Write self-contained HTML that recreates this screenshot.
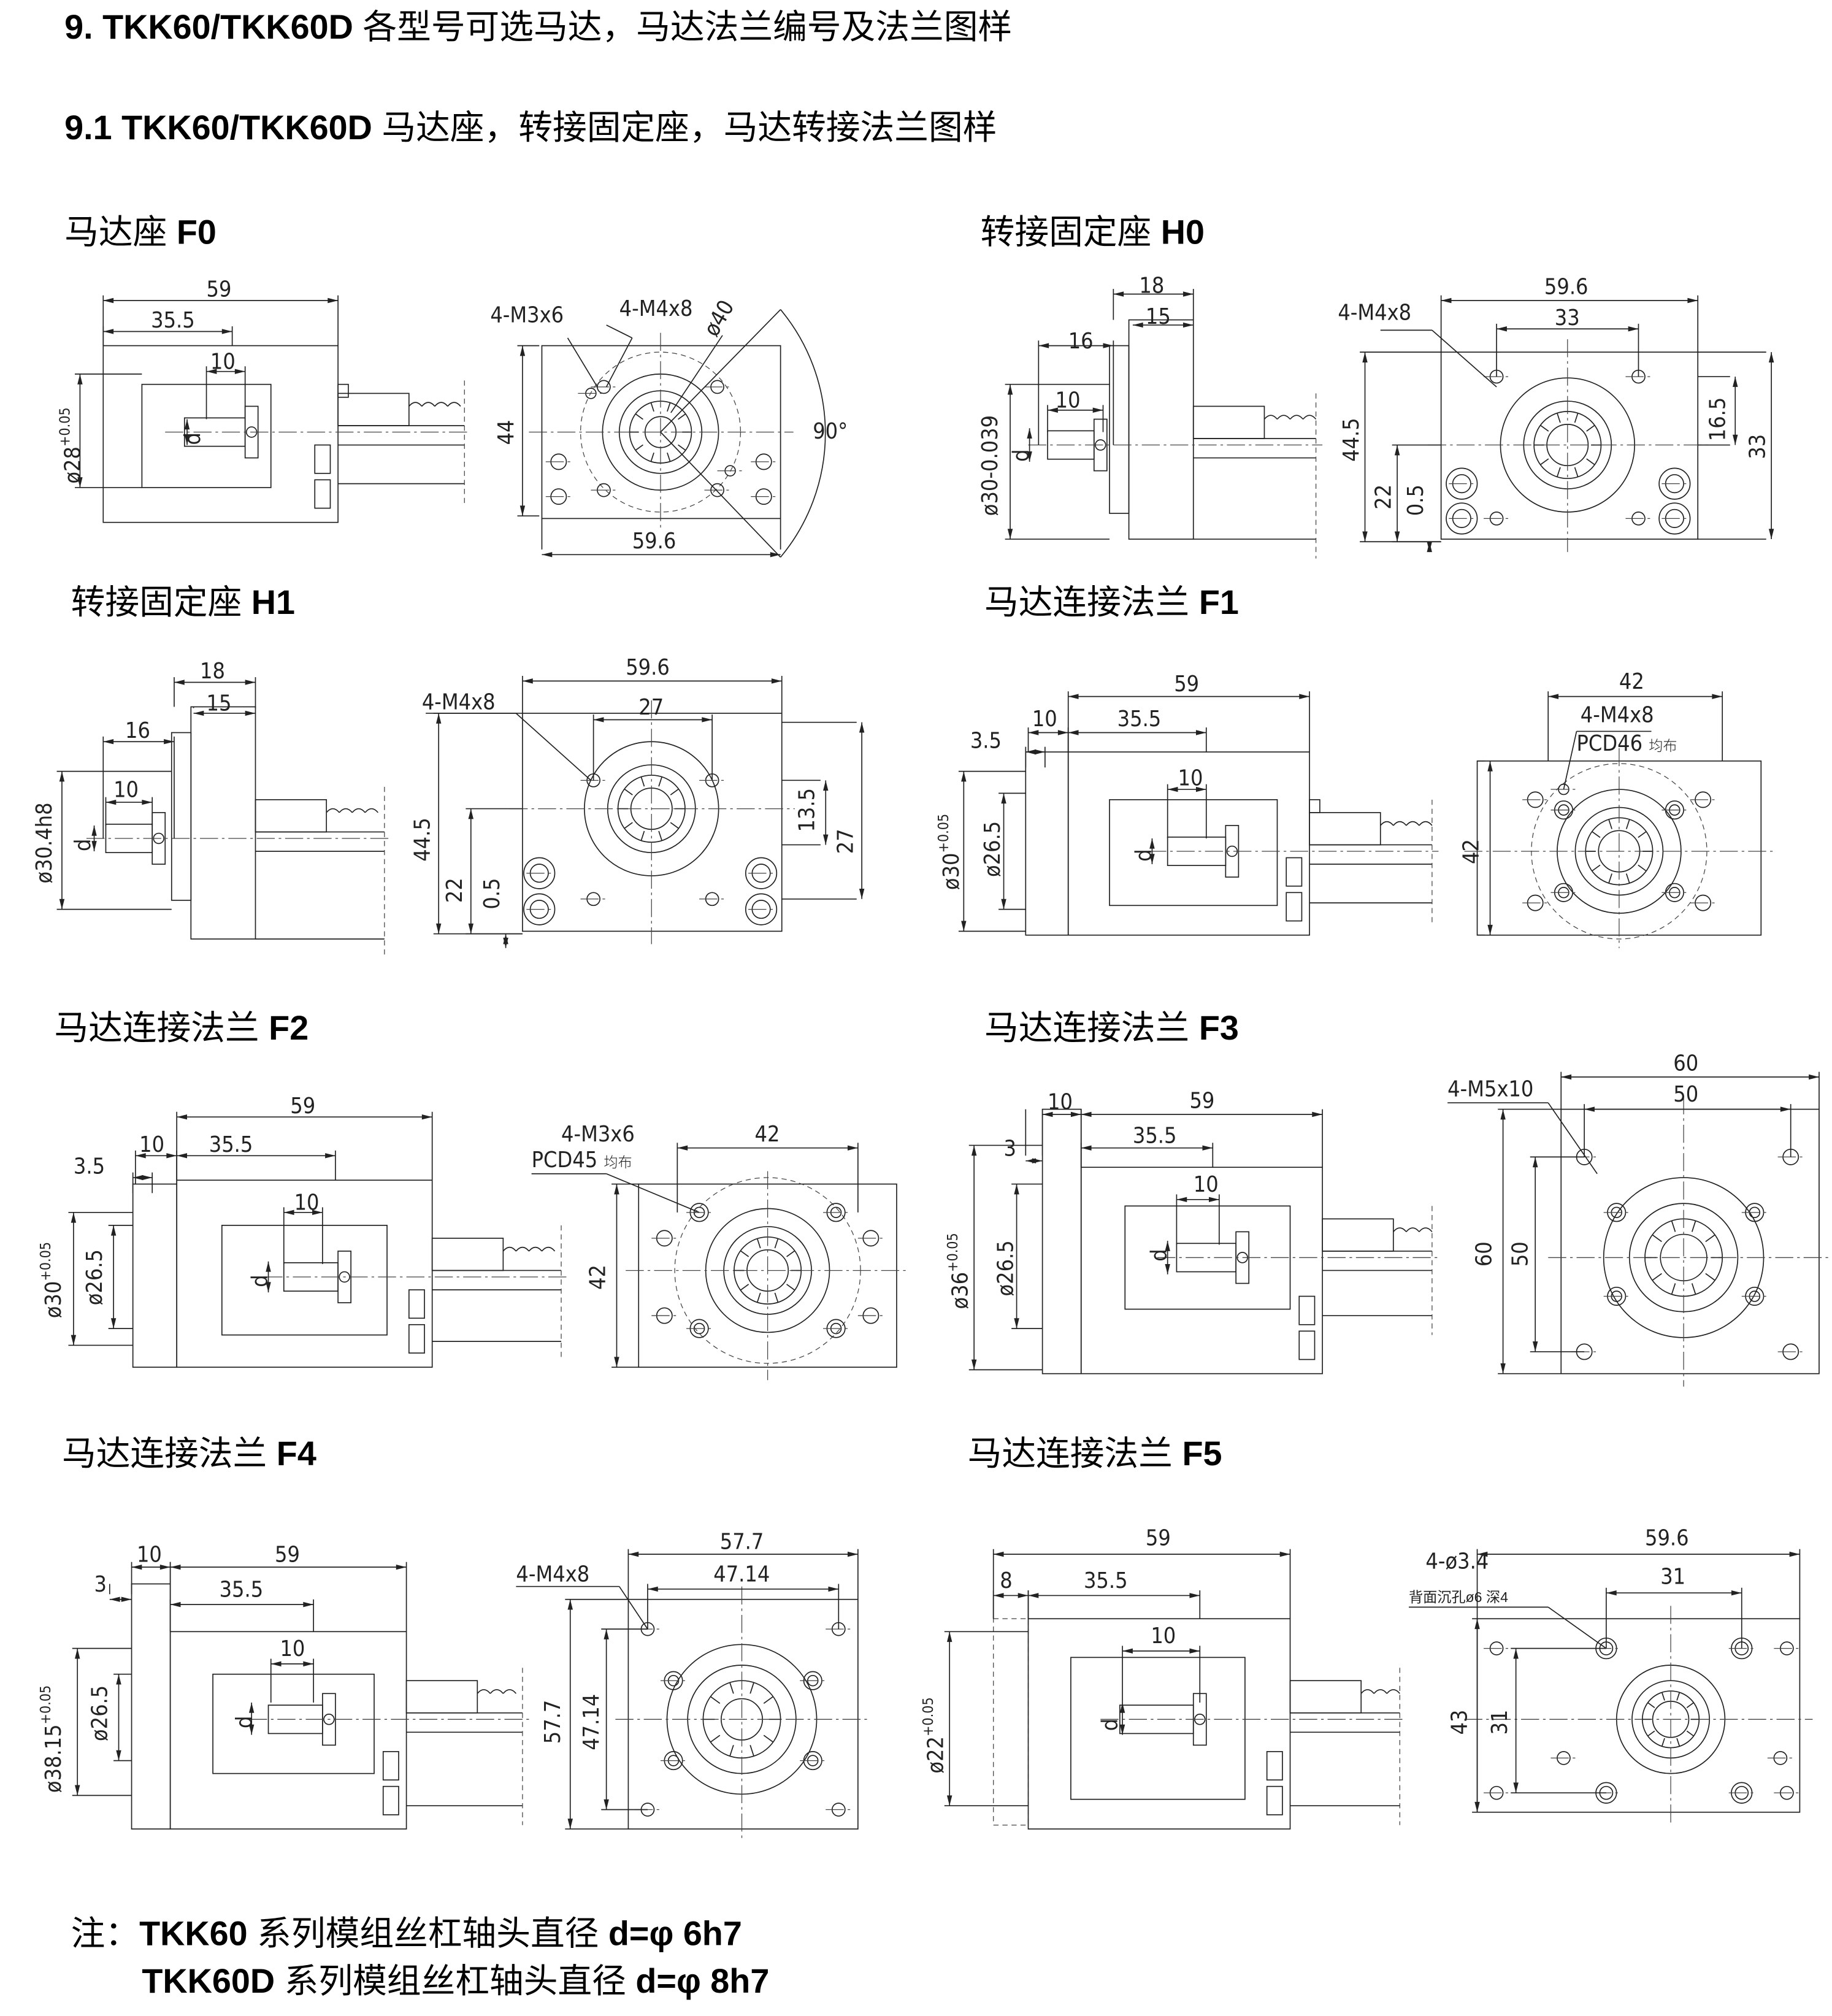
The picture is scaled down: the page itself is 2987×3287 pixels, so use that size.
<!DOCTYPE html>
<html><head><meta charset="utf-8"><style>
html,body{margin:0;padding:0;background:#fff;}
svg{display:block}
.t{font-family:"Liberation Sans","Noto Sans CJK SC",sans-serif;font-size:26.5px;fill:#000}
.t tspan.b{font-weight:bold}
.d{font-family:"DejaVu Sans Condensed","Liberation Sans Narrow","Liberation Sans",sans-serif;font-size:17px;fill:#222;font-weight:300}
.s{font-family:"Liberation Sans","Noto Sans CJK SC",sans-serif;font-size:11px;fill:#222}
.l{stroke:#222;stroke-width:0.8;fill:none}
.c{stroke:#444;stroke-width:0.6;fill:none;stroke-dasharray:14 3 2 3}
.h{stroke:#444;stroke-width:0.6;fill:none;stroke-dasharray:4 3}
.a{fill:#222;stroke:none}
</style></head><body>
<svg id="svg" width="2987" height="3287" viewBox="0 0 1420 1563" preserveAspectRatio="none" xmlns="http://www.w3.org/2000/svg">
<rect width="1420" height="1563" fill="#fff"/>
<g id="g"></g>
<text class="t" x="50" y="30"><tspan class="b">9. TKK60/TKK60D</tspan> 各型号可选马达，马达法兰编号及法兰图样</text>
<text class="t" x="50" y="108"><tspan class="b">9.1 TKK60/TKK60D</tspan> 马达座，转接固定座，马达转接法兰图样</text>
<text class="t" x="50" y="189">马达座 <tspan class="b">F0</tspan></text>
<text class="t" x="760" y="189">转接固定座 <tspan class="b">H0</tspan></text>
<text class="t" x="55" y="476">转接固定座 <tspan class="b">H1</tspan></text>
<text class="t" x="763" y="476">马达连接法兰 <tspan class="b">F1</tspan></text>
<text class="t" x="42" y="806">马达连接法兰 <tspan class="b">F2</tspan></text>
<text class="t" x="763" y="806">马达连接法兰 <tspan class="b">F3</tspan></text>
<text class="t" x="48" y="1136">马达连接法兰 <tspan class="b">F4</tspan></text>
<text class="t" x="750" y="1136">马达连接法兰 <tspan class="b">F5</tspan></text>
<text class="t" x="55" y="1508">注：<tspan class="b">TKK60</tspan> 系列模组丝杠轴头直径 <tspan class="b">d=φ 6h7</tspan></text>
<text class="t" x="110" y="1545"><tspan class="b">TKK60D</tspan> 系列模组丝杠轴头直径 <tspan class="b">d=φ 8h7</tspan></text>

<!-- F0 -->
<text class="d" x="160" y="230">59</text><text class="d" x="117" y="254">35.5</text><text class="d" x="163" y="286">10</text>
<text class="d" transform="translate(62,375) rotate(-90)">ø28<tspan font-size="11" dy="-8">+0.05</tspan></text>
<text class="d" transform="translate(155,345) rotate(-90)">d</text>
<text class="d" x="380" y="250">4-M3x6</text><text class="d" x="480" y="245">4-M4x8</text>
<text class="d" transform="translate(555,262) rotate(-60)">ø40</text>
<text class="d" transform="translate(398,345) rotate(-90)">44</text>
<text class="d" x="490" y="425">59.6</text><text class="d" x="630" y="340">90°</text>
<!-- H0 -->
<text class="d" x="883" y="227">18</text><text class="d" x="888" y="251">15</text><text class="d" x="828" y="270">16</text><text class="d" x="818" y="316">10</text>
<text class="d" transform="translate(773,400) rotate(-90)">ø30-0.039</text>
<text class="d" transform="translate(797,358) rotate(-90)">d</text>
<text class="d" x="1197" y="228">59.6</text><text class="d" x="1205" y="252">33</text><text class="d" x="1037" y="248">4-M4x8</text>
<text class="d" transform="translate(1053,358) rotate(-90)">44.5</text>
<text class="d" transform="translate(1078,395) rotate(-90)">22</text>
<text class="d" transform="translate(1103,400) rotate(-90)">0.5</text>
<text class="d" transform="translate(1337,342) rotate(-90)">16.5</text>
<text class="d" transform="translate(1368,356) rotate(-90)">33</text>
<!-- H1 -->
<text class="d" x="155" y="526">18</text><text class="d" x="160" y="551">15</text><text class="d" x="97" y="572">16</text><text class="d" x="88" y="618">10</text>
<text class="d" transform="translate(40,685) rotate(-90)">ø30.4h8</text>
<text class="d" transform="translate(70,660) rotate(-90)">d</text>
<text class="d" x="485" y="523">59.6</text><text class="d" x="495" y="554">27</text><text class="d" x="327" y="550">4-M4x8</text>
<text class="d" transform="translate(333,668) rotate(-90)">44.5</text>
<text class="d" transform="translate(358,700) rotate(-90)">22</text>
<text class="d" transform="translate(387,705) rotate(-90)">0.5</text>
<text class="d" transform="translate(631,645) rotate(-90)">13.5</text>
<text class="d" transform="translate(661,662) rotate(-90)">27</text>
<!-- F1 -->
<text class="d" x="910" y="536">59</text><text class="d" x="800" y="563">10</text><text class="d" x="866" y="563">35.5</text><text class="d" x="752" y="580">3.5</text><text class="d" x="913" y="609">10</text>
<text class="d" transform="translate(743,690) rotate(-90)">ø30<tspan font-size="11" dy="-8">+0.05</tspan></text>
<text class="d" transform="translate(775,680) rotate(-90)">ø26.5</text>
<text class="d" transform="translate(892,668) rotate(-90)">d</text>
<text class="d" x="1255" y="534">42</text><text class="d" x="1225" y="560">4-M4x8</text><text class="d" x="1222" y="582">PCD46 <tspan class="s">均布</tspan></text>
<text class="d" transform="translate(1146,670) rotate(-90)">42</text>
<!-- F2 -->
<text class="d" x="225" y="863">59</text><text class="d" x="108" y="893">10</text><text class="d" x="162" y="893">35.5</text><text class="d" x="57" y="910">3.5</text><text class="d" x="228" y="938">10</text>
<text class="d" transform="translate(47,1022) rotate(-90)">ø30<tspan font-size="11" dy="-8">+0.05</tspan></text>
<text class="d" transform="translate(79,1012) rotate(-90)">ø26.5</text>
<text class="d" transform="translate(207,998) rotate(-90)">d</text>
<text class="d" x="435" y="885">4-M3x6</text><text class="d" x="412" y="905">PCD45 <tspan class="s">均布</tspan></text><text class="d" x="585" y="885">42</text>
<text class="d" transform="translate(469,1000) rotate(-90)">42</text>
<!-- F3 -->
<text class="d" x="812" y="860">10</text><text class="d" x="922" y="859">59</text><text class="d" x="778" y="896">3</text><text class="d" x="878" y="886">35.5</text><text class="d" x="925" y="924">10</text>
<text class="d" transform="translate(750,1015) rotate(-90)">ø36<tspan font-size="11" dy="-8">+0.05</tspan></text>
<text class="d" transform="translate(785,1005) rotate(-90)">ø26.5</text>
<text class="d" transform="translate(904,978) rotate(-90)">d</text>
<text class="d" x="1297" y="830">60</text><text class="d" x="1297" y="854">50</text><text class="d" x="1122" y="850">4-M5x10</text>
<text class="d" transform="translate(1156,982) rotate(-90)">60</text>
<text class="d" transform="translate(1184,982) rotate(-90)">50</text>
<!-- F4 -->
<text class="d" x="106" y="1211">10</text><text class="d" x="213" y="1211">59</text><text class="d" x="73" y="1234">3</text><text class="d" x="170" y="1238">35.5</text><text class="d" x="217" y="1284">10</text>
<text class="d" transform="translate(47,1390) rotate(-90)">ø38.15<tspan font-size="11" dy="-8">+0.05</tspan></text>
<text class="d" transform="translate(83,1350) rotate(-90)">ø26.5</text>
<text class="d" transform="translate(195,1340) rotate(-90)">d</text>
<text class="d" x="558" y="1201">57.7</text><text class="d" x="553" y="1226">47.14</text><text class="d" x="400" y="1226">4-M4x8</text>
<text class="d" transform="translate(434,1352) rotate(-90)">57.7</text>
<text class="d" transform="translate(464,1357) rotate(-90)">47.14</text>
<!-- F5 -->
<text class="d" x="888" y="1198">59</text><text class="d" x="775" y="1231">8</text><text class="d" x="840" y="1231">35.5</text><text class="d" x="892" y="1274">10</text>
<text class="d" transform="translate(731,1375) rotate(-90)">ø22<tspan font-size="11" dy="-8">+0.05</tspan></text>
<text class="d" transform="translate(866,1342) rotate(-90)">d</text>
<text class="d" x="1275" y="1198">59.6</text><text class="d" x="1287" y="1228">31</text><text class="d" x="1105" y="1216">4-ø3.4</text>
<text class="s" x="1092" y="1242">背面沉孔ø6 深4</text>
<text class="d" transform="translate(1137,1345) rotate(-90)">43</text>
<text class="d" transform="translate(1168,1345) rotate(-90)">31</text>
</svg>
<script>
var G=document.getElementById('g'),NS='http://www.w3.org/2000/svg';
function E(t,a){var e=document.createElementNS(NS,t);for(var k in a)e.setAttribute(k,a[k]);G.appendChild(e);return e;}
function L(x1,y1,x2,y2,c){E('line',{x1:x1,y1:y1,x2:x2,y2:y2,'class':c||'l'});}
function R(x,y,w,h,c){E('rect',{x:x,y:y,width:w,height:h,'class':c||'l'});}
function C(x,y,r,c){E('circle',{cx:x,cy:y,r:r,'class':c||'l'});}
function P(pts){E('polygon',{points:pts,'class':'a'});}
function hd(x1,x2,y,y0){L(x1,y,x2,y);P(x1+','+y+' '+(x1+8)+','+(y-2)+' '+(x1+8)+','+(y+2));P(x2+','+y+' '+(x2-8)+','+(y-2)+' '+(x2-8)+','+(y+2));
 if(y0!=null){L(x1,y-4,x1,y0);L(x2,y-4,x2,y0);}}
function vd(y1,y2,x,x0){L(x,y1,x,y2);P(x+','+y1+' '+(x-2)+','+(y1+8)+' '+(x+2)+','+(y1+8));P(x+','+y2+' '+(x-2)+','+(y2-8)+' '+(x+2)+','+(y2-8));
 if(x0!=null){L(x-4,y1,x0,y1);L(x-4,y2,x0,y2);}}
function side(o){
 if(o.fx1!=null)R(o.fx1,o.fy1,o.fx2-o.fx1,o.fy2-o.fy1);
 if(o.bx1!=null){R(o.bx1,o.by1,o.bx2-o.bx1,o.by2-o.by1);
   if(o.win){R(o.win[0],o.win[1],o.win[2]-o.win[0],o.win[3]-o.win[1]);}
   R(o.bx2-18,o.by2-60,12,22);R(o.bx2-18,o.by2-33,12,22);}
 var cy=o.cy;R(o.sx1,cy-11,o.sx2-o.sx1,22);R(o.sx2,cy-20,10,40);C(o.sx2+5,cy,4);
 var rx=o.rx1,re=o.rx2;R(rx,cy-30,55,25);L(rx,cy-5,re,cy-5);L(rx,cy+10,re,cy+10);L(rx,o.rb,re,o.rb);
 for(var x=rx+55;x<re-6;x+=10){E('path',{d:'M'+x+' '+(cy-20)+' q5 -6 10 0','class':'l'});}
 L(re,cy-40,re,o.rb+15,'h');L(o.sx1-15,cy,re+5,cy,'c');}
function front(o){
 R(o.x1,o.y1,o.x2-o.x1,o.y2-o.y1);
 (o.rs||[]).forEach(function(r){C(o.cx,o.cy,r);});
 if(o.dr)C(o.cx,o.cy,o.dr,'h');
 (o.holes||[]).forEach(function(h){C(h[0],h[1],h[2]);if(h[3])C(h[0],h[1],h[3]);L(h[0]-10,h[1],h[0]+10,h[1],'c');});
 L(o.x1-10,o.cy,o.x2+10,o.cy,'c');L(o.cx,o.y1-10,o.cx,o.y2+10,'c');
 for(var i=0;i<10;i++){var a=i*Math.PI/5,r=(o.rs&&o.rs.length>2)?o.rs[2]:20;L(o.cx+Math.cos(a)*r*0.7,o.cy+Math.sin(a)*r*0.7,o.cx+Math.cos(a)*r,o.cy+Math.sin(a)*r);}}

// F0
side({bx1:80,bx2:262,by1:268,by2:405,win:[110,298,210,378],cy:335,sx1:143,sx2:190,rx1:262,rx2:360,rb:375});
R(262,298,8,10);
hd(80,262,233,268);hd(80,180,257,268);hd(160,190,288,325);vd(290,378,62,110);vd(325,345,145,null);
front({x1:420,y1:268,x2:605,y2:402,cx:512,cy:335,rs:[45,32,24,12],dr:62,holes:[[468,300,5],[556,300,5],[468,380,5],[556,380,5],[433,358,6],[433,385,6],[592,358,6],[592,385,6],[458,305,4],[566,365,4]]});
vd(268,400,405,418);hd(420,605,430,402);
E('path',{d:'M605 240 A150 150 0 0 1 605 432','class':'l'});L(512,335,605,240);L(512,335,605,432);
L(440,262,463,300);L(470,252,490,262);L(490,262,470,300);L(560,260,520,320);
// H0
R(875,248,50,170);R(860,268,15,130);side({cy:345,sx1:812,sx2:848,rx1:925,rx2:1020,rb:418});
hd(863,925,228,248);hd(878,925,252,248);hd(805,863,268,345);hd(812,855,318,335);vd(298,418,783,860);vd(332,358,798,null);
front({x1:1117,y1:273,x2:1316,y2:418,cx:1215,cy:345,rs:[52,34,26,16],holes:[[1160,292,5],[1270,292,5],[1160,402,5],[1270,402,5],[1133,375,12,7],[1133,402,12,7],[1298,375,12,7],[1298,402,12,7]]});
hd(1117,1316,233,273);hd(1160,1270,255,292);vd(273,420,1058,1117);vd(345,420,1083,1117);vd(420,428,1108,null);vd(292,345,1345,1316);vd(273,418,1373,1316);
L(1070,256,1110,256);L(1110,256,1160,300);
// H1
R(148,548,50,180);R(133,568,15,130);side({cy:650,sx1:82,sx2:118,rx1:198,rx2:298,rb:728});
hd(135,198,529,548);hd(150,198,553,548);hd(80,135,575,650);hd(82,118,622,640);vd(598,705,48,133);vd(640,660,73,null);
front({x1:405,y1:553,x2:606,y2:722,cx:505,cy:627,rs:[52,34,26,16],holes:[[460,605,5],[552,605,5],[460,697,5],[552,697,5],[418,677,12,7],[418,705,12,7],[590,677,12,7],[590,705,12,7]]});
hd(405,606,528,553);hd(460,552,558,605);vd(553,724,340,405);vd(627,724,365,405);vd(724,735,392,null);vd(605,655,640,606);vd(560,697,668,606);
L(330,553,400,553);L(400,553,458,605);
// F1
R(795,583,33,142);side({bx1:828,bx2:1015,by1:583,by2:725,win:[860,620,990,702],cy:660,sx1:905,sx2:950,rx1:1015,rx2:1110,rb:700});R(1015,620,8,10);
hd(828,1015,540,583);hd(797,828,568,583);hd(828,935,568,583);hd(795,810,583,595);hd(905,935,612,650);vd(598,722,747,795);vd(615,705,778,795);vd(650,670,893,null);
front({x1:1145,y1:590,x2:1365,y2:725,cx:1255,cy:660,rs:[48,34,26,16],dr:68,holes:[[1212,628,7,4],[1298,628,7,4],[1212,692,7,4],[1298,692,7,4],[1190,620,6],[1320,620,6],[1190,700,6],[1320,700,6],[1212,612,4]]});
hd(1200,1335,540,590);vd(590,725,1155,1145);L(1222,567,1280,567);L(1222,567,1212,612);
// F2
R(103,918,34,142);side({bx1:137,bx2:335,by1:915,by2:1060,win:[172,950,300,1035],cy:990,sx1:220,sx2:262,rx1:335,rx2:435,rb:1040});
hd(137,335,866,915);hd(105,137,896,918);hd(137,260,896,915);hd(103,118,913,925);hd(220,250,940,980);vd(940,1043,57,103);vd(950,1030,88,103);vd(978,1002,208,null);
front({x1:495,y1:918,x2:695,y2:1060,cx:595,cy:985,rs:[48,34,26,16],dr:72,holes:[[542,940,7,4],[648,940,7,4],[542,1030,7,4],[648,1030,7,4],[515,960,6],[675,960,6],[515,1020,6],[675,1020,6]]});
hd(525,665,890,940);vd(918,1060,478,495);L(412,910,470,910);L(470,910,542,940);
// F3
R(808,860,30,205);side({bx1:838,bx2:1025,by1:905,by2:1065,win:[872,935,1000,1015],cy:975,sx1:912,sx2:958,rx1:1025,rx2:1110,rb:1020});
hd(808,838,864,860);hd(838,1025,864,905);hd(795,808,900,860);hd(838,940,890,905);hd(912,945,930,965);vd(888,1062,755,808);vd(918,1030,788,808);vd(962,988,905,null);
front({x1:1210,y1:860,x2:1410,y2:1065,cx:1305,cy:975,rs:[62,42,30,18],holes:[[1253,940,7,4],[1360,940,7,4],[1253,1005,7,4],[1360,1005,7,4],[1228,897,6],[1388,897,6],[1228,1048,6],[1388,1048,6]]});
hd(1210,1410,835,860);hd(1228,1388,860,897);vd(860,1065,1165,1210);vd(897,1048,1190,1228);L(1122,855,1200,855);L(1200,855,1238,910);
// F4
R(102,1228,30,190);side({bx1:132,bx2:315,by1:1265,by2:1418,win:[165,1298,290,1375],cy:1333,sx1:208,sx2:250,rx1:315,rx2:405,rb:1400});
hd(102,132,1215,1228);hd(132,315,1215,1265);hd(85,102,1240,1228);hd(132,243,1244,1265);hd(210,243,1290,1320);vd(1278,1392,60,102);vd(1298,1365,92,102);vd(1320,1345,195,null);
front({x1:487,y1:1240,x2:665,y2:1418,cx:575,cy:1333,rs:[58,42,30,16],holes:[[522,1303,7,4],[630,1303,7,4],[522,1365,7,4],[630,1365,7,4],[502,1263,5],[650,1263,5],[502,1403,5],[650,1403,5]]});
hd(487,665,1205,1240);hd(502,650,1232,1263);vd(1240,1418,442,487);vd(1263,1403,470,502);L(400,1230,480,1230);L(480,1230,502,1263);
// F5
R(770,1255,27,160,'h');side({bx1:797,bx2:1000,by1:1255,by2:1418,win:[830,1285,965,1395],cy:1333,sx1:868,sx2:925,rx1:1000,rx2:1085,rb:1400});
hd(770,1000,1205,1255);hd(770,797,1237,1255);hd(797,930,1237,1255);hd(870,930,1280,1320);vd(1265,1400,736,797);vd(1320,1345,870,null);
front({x1:1145,y1:1255,x2:1395,y2:1405,cx:1295,cy:1333,rs:[42,30,22,14],holes:[[1245,1278,5,8],[1350,1278,5,8],[1245,1390,5,8],[1350,1390,5,8],[1160,1278,5],[1385,1278,5],[1160,1390,5],[1385,1390,5],[1212,1363,5],[1380,1363,5]]});
hd(1145,1395,1205,1255);hd(1245,1350,1235,1278);vd(1255,1405,1145,1145);vd(1278,1390,1175,1245);L(1092,1246,1200,1246);L(1200,1246,1245,1278);
</script>
</body></html>
